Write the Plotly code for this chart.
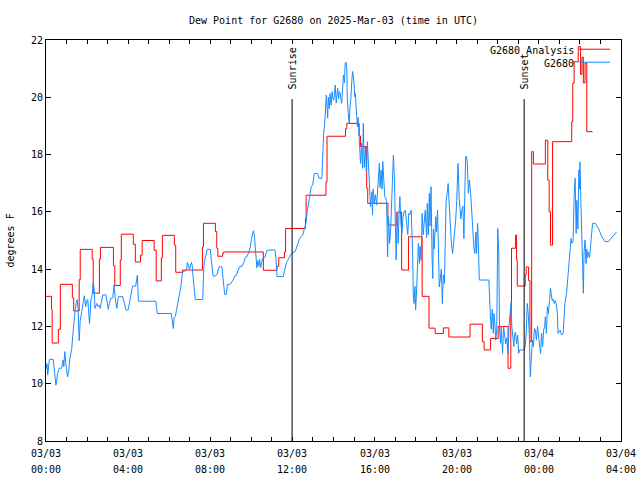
import pandas as pd
import plotly.graph_objects as go

START = pd.Timestamp("2025-03-03 00:00")

# G2680 Analysis (step series): minutes after 03/03 00:00 UTC, dew point (F)
analysis_min = [0, 16, 18, 36, 42, 77, 81, 97, 100, 135, 138, 156, 159, 197, 201, 217, 220,
                255, 261, 276, 281, 316, 322, 337, 340, 375, 379, 399, 457, 460, 495, 499,
                502, 516, 519, 635, 675, 680, 697, 700, 758, 760, 818, 821, 875, 879, 915,
                919, 937, 940, 999, 1025, 1039, 1059, 1099, 1119, 1137, 1161, 1177, 1239,
                1275, 1280, 1299, 1321, 1350, 1358, 1360, 1372, 1375, 1377, 1400, 1403,
                1410, 1414, 1419, 1424, 1459, 1466, 1470, 1474, 1480, 1536, 1539, 1543,
                1555, 1562, 1566, 1570, 1575, 1580, 1597]
analysis_val = [13.05, 12.6, 11.42, 11.9, 13.47, 13.0, 12.54, 13.63, 14.69, 14.34, 13.16,
                14.34, 14.76, 14.12, 13.43, 14.32, 15.22, 14.87, 14.25, 14.49, 15.0, 14.66,
                13.59, 14.39, 15.18, 14.84, 13.89, 13.97, 14.77, 15.6, 15.31, 14.73, 14.45,
                14.55, 14.6, 13.96, 14.1, 14.4, 14.6, 15.42, 15.77, 16.58, 17.05, 18.64,
                18.9, 19.09, 18.65, 18.28, 16.82, 16.3, 15.54, 15.99, 13.97, 15.13, 13.05,
                11.94, 11.75, 11.95, 11.63, 12.08, 11.47, 11.18, 11.58, 12.0, 10.54, 12.6,
                14.73, 15.19, 14.3, 13.41, 13.8, 14.08, 13.6, 11.47, 18.1, 17.67, 18.5,
                17.11, 16.0, 14.84, 18.45, 19.15, 20.49, 21.24, 21.77, 20.8, 21.4, 20.5,
                21.2, 18.8, 18.8]

# G2680 observations: minutes after 03/03 00:00 UTC, dew point (F)
obs_min = [0, 3, 5, 7, 10, 21, 24, 27, 29, 31, 34, 39, 46, 48, 50, 52, 55, 58, 60, 63, 66,
           70, 75, 78, 80, 83, 88, 91, 94, 97, 100, 105, 109, 112, 116, 119, 122, 124, 127,
           129, 131, 135, 138, 141, 143, 148, 151, 154, 158, 161, 166, 175, 177, 180, 182,
           185, 189, 195, 199, 202, 207, 209, 212, 224, 228, 234, 240, 243, 247, 250, 253,
           262, 265, 267, 270, 321, 325, 366, 368, 370, 372, 374, 378, 381, 384, 388, 391,
           394, 396, 399, 405, 411, 413, 416, 419, 425, 427, 430, 434, 436, 458, 459, 461,
           464, 467, 471, 480, 482, 485, 488, 495, 500, 503, 506, 514, 517, 520, 522, 527,
           530, 538, 547, 551, 556, 565, 573, 579, 582, 587, 592, 597, 600, 603, 606, 609,
           612, 614, 616, 619, 622, 624, 627, 630, 633, 639, 643, 646, 669, 672, 675, 693,
           696, 703, 707, 714, 717, 728, 735, 741, 750, 756, 760, 763, 767, 772, 775, 779,
           784, 794, 798, 806, 808, 811, 814, 816, 819, 823, 825, 828, 830, 833, 836, 838,
           841, 844, 845, 848, 850, 852, 855, 857, 859, 862, 864, 869, 872, 874, 877, 879,
           880, 883, 886, 888, 891, 894, 896, 898, 900, 902, 904, 906, 908, 910, 912, 915,
           919, 922, 925, 927, 930, 933, 936, 939, 942, 945, 948, 952, 954, 956, 959, 962,
           966, 971, 974, 976, 979, 982, 984, 987, 990, 995, 998, 1001, 1004, 1007, 1010,
           1013, 1015, 1018, 1021, 1023, 1026, 1029, 1032, 1034, 1037, 1040, 1043, 1046,
           1050, 1054, 1057, 1060, 1063, 1067, 1069, 1071, 1073, 1075, 1078, 1080, 1083,
           1085, 1088, 1091, 1093, 1096, 1099, 1102, 1105, 1108, 1112, 1114, 1117, 1120,
           1122, 1125, 1128, 1130, 1132, 1134, 1139, 1141, 1144, 1147, 1149, 1152, 1155,
           1158, 1161, 1164, 1167, 1169, 1172, 1175, 1177, 1180, 1182, 1185, 1188, 1191,
           1194, 1197, 1200, 1202, 1204, 1207, 1210, 1212, 1215, 1218, 1221, 1224, 1226,
           1229, 1231, 1234, 1237, 1241, 1244, 1247, 1250, 1253, 1256, 1258, 1261, 1263,
           1266, 1294, 1296, 1297, 1299, 1301, 1303, 1304, 1307, 1309, 1312, 1314, 1317,
           1320, 1323, 1325, 1328, 1330, 1332, 1334, 1337, 1340, 1343, 1346, 1350, 1353,
           1356, 1359, 1361, 1364, 1367, 1369, 1372, 1375, 1378, 1381, 1384, 1397, 1400,
           1403, 1406, 1409, 1412, 1415, 1418, 1421, 1424, 1427, 1430, 1433, 1436, 1439,
           1442, 1445, 1448, 1451, 1454, 1457, 1459, 1462, 1465, 1468, 1471, 1474, 1476,
           1479, 1482, 1485, 1488, 1491, 1494, 1496, 1502, 1507, 1511, 1513, 1516, 1521,
           1524, 1526, 1529, 1531, 1534, 1537, 1540, 1543, 1546, 1549, 1551, 1554, 1557,
           1559, 1560, 1562, 1565, 1567, 1570, 1572, 1575, 1578, 1580, 1582, 1585, 1588,
           1590, 1594, 1597, 1605, 1615, 1624, 1633, 1643, 1653, 1662, 1667]
obs_val = [10.5, 10.7, 10.3, 10.57, 10.85, 10.85, 10.55, 10.15, 9.95, 10.1, 10.36, 10.54,
           10.54, 10.71, 10.83, 10.6, 11.12, 10.7, 10.5, 10.24, 10.4, 10.9, 11.2, 11.64,
           12.05, 12.34, 12.8, 12.94, 12.57, 11.5, 12.2, 12.63, 12.92, 13.07, 12.69, 12.9,
           12.95, 12.57, 12.1, 12.4, 12.92, 13.1, 13.53, 13.27, 12.63, 12.8, 12.7, 12.75,
           12.63, 12.8, 13.1, 13.1, 12.92, 12.69, 12.6, 12.8, 12.98, 13.0, 13.45, 13.0,
           12.63, 12.85, 13.04, 13.04, 12.85, 12.57, 12.57, 12.8, 13.0, 13.33, 13.41, 13.41,
           13.71, 13.79, 12.88, 12.88, 12.45, 12.45, 12.28, 12.1, 11.93, 12.3, 12.35, 12.55,
           12.8, 13.1, 13.2, 13.38, 13.62, 13.91, 13.91, 14.0, 14.24, 14.08, 14.0, 14.24,
           14.14, 13.7, 13.21, 12.94, 12.94, 13.5, 14.08, 14.32, 14.55, 14.69, 14.69, 14.43,
           13.97, 13.76, 13.76, 13.83, 13.97, 14.08, 14.08, 13.8, 13.36, 13.12, 13.12, 13.47,
           13.47, 13.62, 13.76, 13.78, 14.08, 14.1, 14.26, 14.41, 14.43, 14.57, 14.78, 15.04,
           15.25, 15.34, 15.15, 14.8, 14.38, 14.05, 14.3, 14.1, 14.35, 14.05, 14.3, 14.38,
           14.4, 14.55, 14.66, 14.67, 14.38, 13.74, 13.74, 13.91, 14.24, 14.32, 14.49, 14.55,
           14.61, 14.82, 15.07, 15.19, 15.42, 15.62, 16.0, 16.35, 16.61, 16.88, 16.94, 17.34,
           17.34, 17.17, 17.17, 17.93, 18.68, 19.03, 19.73, 20.08, 19.27, 20.0, 19.61, 20.13,
           19.73, 20.2, 19.95, 19.9, 20.31, 20.43, 19.8, 20.2, 20.31, 19.95, 20.2, 20.15,
           19.9, 19.79, 20.78, 20.5, 21.19, 21.22, 20.95, 20.02, 19.44, 19.09, 19.67, 20.0,
           20.66, 20.9, 20.7, 20.5, 20.02, 20.13, 19.7, 19.2, 18.97, 19.3, 18.62, 17.69, 18.4,
           17.52, 19.09, 17.55, 18.28, 17.4, 18.45, 17.35, 16.94, 16.18, 16.7, 15.89, 16.79,
           16.3, 16.6, 16.24, 17.23, 17.69, 16.85, 17.46, 16.8, 17.75, 17.1, 16.53, 16.4,
           14.43, 15.83, 14.9, 15.4, 16.4, 17.52, 17.98, 17.2, 15.83, 14.32, 15.95, 14.9,
           16.12, 16.53, 15.6, 15.25, 15.8, 16.0, 16.06, 15.6, 15.2, 15.95, 15.9, 16.06, 15.4,
           14.67, 13.16, 12.8, 13.4, 12.57, 13.3, 14.2, 14.9, 14.2, 14.8, 14.3, 15.95, 15.2,
           15.7, 16.06, 15.1, 16.3, 15.2, 16.65, 15.5, 16.88, 14.43, 13.67, 15.4, 14.7, 15.83,
           15.3, 16.06, 14.43, 13.38, 13.65, 14.0, 12.8, 13.8, 13.5, 15.13, 16.35, 16.65,
           16.99, 16.5, 15.8, 15.25, 14.8, 14.55, 14.95, 15.15, 15.71, 16.4, 16.94, 17.69,
           16.5, 16.06, 15.75, 16.06, 16.2, 15.07, 16.99, 17.93, 17.93, 17.7, 16.65, 17.11,
           16.6, 15.83, 15.4, 14.78, 14.55, 15.3, 14.55, 15.6, 15.0, 13.62, 13.62, 12.8, 13.2,
           12.22, 11.9, 12.45, 12.6, 11.76, 12.45, 12.0, 11.52, 11.9, 15.42, 14.55, 11.9,
           11.41, 12.0, 11.5, 11.06, 11.99, 11.7, 11.4, 11.6, 11.06, 12.05, 12.69, 12.86,
           12.0, 11.6, 11.3, 11.7, 11.8, 11.4, 11.7, 11.06, 11.18, 11.18, 11.3, 11.76, 12.8,
           12.45, 11.76, 10.24, 11.06, 11.52, 11.3, 11.93, 11.87, 11.52, 12.0, 11.64, 11.2,
           11.06, 11.76, 11.3, 11.87, 12.0, 12.34, 11.76, 12.69, 12.45, 12.9, 13.33, 13.15,
           12.9, 12.95, 12.8, 12.9, 12.8, 12.45, 11.76, 11.87, 11.7, 11.76, 12.34, 12.8,
           13.16, 13.6, 13.85, 14.3, 14.43, 15.07, 14.9, 15.0, 16.53, 17.17, 15.25, 16.4,
           15.4, 17.46, 16.8, 17.75, 16.71, 15.25, 13.85, 13.16, 14.6, 15.02, 14.2, 14.7,
           14.4, 14.6, 14.4, 14.67, 14.96, 15.6, 15.6, 15.4, 15.13, 14.96, 14.96, 15.1, 15.25,
           15.3]

series_names = ["G2680 Analysis", "G2680"]
series_colors = ["#ff0000", "#1a8cff"]

x_tick_vals = ["2025-03-03 00:00", "2025-03-03 04:00", "2025-03-03 08:00", "2025-03-03 12:00",
               "2025-03-03 16:00", "2025-03-03 20:00", "2025-03-04 00:00", "2025-03-04 04:00"]
x_tick_date = ["03/03", "03/03", "03/03", "03/03", "03/03", "03/03", "03/04", "03/04"]
x_tick_time = ["00:00", "04:00", "08:00", "12:00", "16:00", "20:00", "00:00", "04:00"]
y_tick_vals = [8, 10, 12, 14, 16, 18, 20, 22]

sun_labels = ["Sunrise", "Sunset"]
sun_times = ["2025-03-03 11:59", "2025-03-03 23:17"]

FONT = "DejaVu Sans Mono"
TXT = dict(family=FONT, size=10, color="black")
PLOT_H = 401.0  # plot area height in px

t_an = START + pd.to_timedelta(analysis_min, unit="min")
t_ob = START + pd.to_timedelta(obs_min, unit="min")

fig = go.Figure()
fig.add_trace(go.Scatter(x=t_an, y=analysis_val, mode="lines", name=series_names[0],
                         line=dict(color=series_colors[0], width=1, shape="hv"),
                         showlegend=False))
fig.add_trace(go.Scatter(x=t_ob, y=obs_val, mode="lines", name=series_names[1],
                         line=dict(color=series_colors[1], width=1),
                         showlegend=False))

shapes = []
annotations = []
for lab, t in zip(sun_labels, sun_times):
    shapes.append(dict(type="line", xref="x", yref="paper", x0=t, x1=t, y0=0, y1=0.853,
                       line=dict(color="black", width=1)))
    annotations.append(dict(text=lab, x=t, xref="x", y=0.872, yref="paper", textangle=-90,
                            xanchor="center", yanchor="bottom", showarrow=False, font=TXT))

# x tick labels: date line and time line
for tv, d, tm in zip(x_tick_vals, x_tick_date, x_tick_time):
    annotations.append(dict(text=d, x=tv, xref="x", y=-12.5 / PLOT_H, yref="paper",
                            xanchor="center", yanchor="middle", showarrow=False, font=TXT))
    annotations.append(dict(text=tm, x=tv, xref="x", y=-28.0 / PLOT_H, yref="paper",
                            xanchor="center", yanchor="middle", showarrow=False, font=TXT))

# legend (text on the left, line sample on the right)
for i, (nm, col) in enumerate(zip(series_names, series_colors)):
    yp = 0.975 - i * 0.0325
    annotations.append(dict(text=nm, x=0.921, xref="paper", y=yp, yref="paper",
                            xanchor="right", yanchor="middle", showarrow=False, font=TXT))
    shapes.append(dict(type="line", xref="paper", yref="paper", x0=0.927, x1=0.981,
                       y0=yp + 0.002, y1=yp + 0.002, line=dict(color=col, width=1)))

annotations.append(dict(text="degrees F", x=-0.0626, xref="paper", y=0.5, yref="paper",
                        textangle=-90, xanchor="center", yanchor="middle", showarrow=False,
                        font=TXT))

fig.update_layout(
    width=640, height=480, autosize=False,
    margin=dict(l=46, r=19, t=40, b=39, autoexpand=False),
    paper_bgcolor="white", plot_bgcolor="white",
    font=TXT,
    title=dict(text="Dew Point for G2680 on 2025-Mar-03 (time in UTC)", x=0.5, xref="paper",
               y=1 - 20 / 480, yref="container", xanchor="center", yanchor="middle",
               font=TXT),
    shapes=shapes, annotations=annotations, showlegend=False,
)
fig.update_xaxes(range=["2025-03-03 00:00", "2025-03-04 04:00"], tickvals=x_tick_vals,
                 showticklabels=False, automargin=False,
                 ticks="inside", ticklen=4, tickcolor="black",
                 showline=True, linecolor="black", linewidth=1, mirror="ticks",
                 showgrid=False, zeroline=False,
                 minor=dict(dtick=3600000, ticks="inside", ticklen=4, tickcolor="black",
                            showgrid=False))
fig.update_yaxes(range=[8, 22], tickvals=y_tick_vals, ticks="inside", ticklen=5,
                 automargin=False,
                 tickcolor="black", showline=True, linecolor="black", linewidth=1,
                 mirror="ticks", showgrid=False, zeroline=False, tickfont=TXT)

fig.write_html("out.html", config={"displayModeBar": False},
               post_script="document.body.style.margin='0px';")
